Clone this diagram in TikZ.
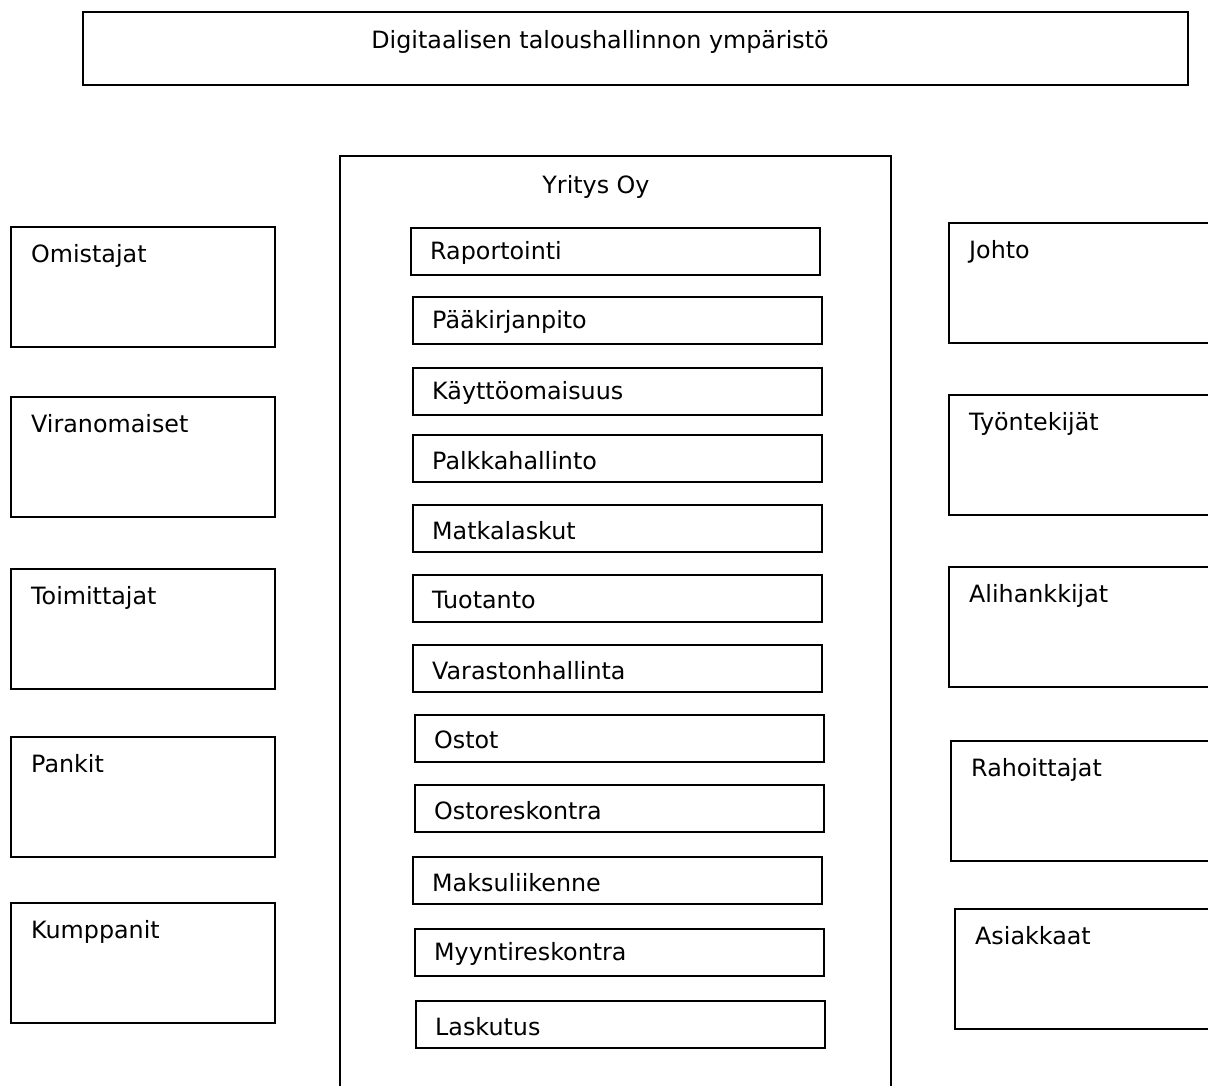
\documentclass[tikz,border=0pt]{standalone}
\usepackage{fontspec}
\setmainfont{DejaVu Sans}
\begin{document}
\begin{tikzpicture}[x=1pt,y=-1pt,
  every node/.style={font=\fontsize{23.8}{28}\selectfont},
  frame/.style={draw, line width=1.6pt, rectangle, inner sep=0pt, anchor=north west},
  sidebox/.style={frame, minimum width=264pt, minimum height=120pt},
  rightbox/.style={frame, minimum width=300pt, minimum height=120pt},
  modbox/.style={frame, minimum width=409pt, minimum height=47pt},
  boxlabel/.style={anchor=north west, inner sep=0pt, xshift=21pt, yshift=-18pt},
  modlabel/.style={anchor=west, inner sep=0pt, xshift=20pt, yshift=-2pt}]
\useasboundingbox (0,0) rectangle (1208,1086);
\clip (0,0) rectangle (1208,1086);
% top
\node[frame, minimum width=1105pt, minimum height=73pt] (env) at (82,11) {};
\node[inner sep=0pt] (envt) at (600,42) {Digitaalisen taloushallinnon ympäristö};
% company
\node[frame, minimum width=551pt, minimum height=960pt] (co) at (339,155) {};
\node[inner sep=0pt] (cot) at (596,187) {Yritys Oy};
% modules
\foreach \n/\x/\y/\t in {m1/410/227/Raportointi, m2/412/296/Pääkirjanpito, m3/412/367/Käyttöomaisuus,
  m4/412/434/Palkkahallinto, m5/412/504/Matkalaskut, m6/412/574/Tuotanto, m7/412/644/Varastonhallinta,
  m8/414/714/Ostot, m9/414/784/Ostoreskontra, m10/412/856/Maksuliikenne, m11/414/928/Myyntireskontra,
  m12/415/1000/Laskutus}{
  \node[modbox] (\n) at (\x,\y) {};
  \node[modlabel] (\n t) at (\n.west) {\t};
}
% left
\foreach \n/\y/\t in {l1/226/Omistajat, l2/396/Viranomaiset, l3/568/Toimittajat, l4/736/Pankit, l5/902/Kumppanit}{
  \node[sidebox] (\n) at (10,\y) {};
  \node[boxlabel] (\n t) at (\n.north west) {\t};
}
% right
\foreach \n/\x/\y/\t in {r1/948/222/Johto, r2/948/394/Työntekijät, r3/948/566/Alihankkijat, r4/950/740/Rahoittajat, r5/954/908/Asiakkaat}{
  \node[rightbox] (\n) at (\x,\y) {};
  \node[boxlabel] (\n t) at (\n.north west) {\t};
}
\end{tikzpicture}
\end{document}
